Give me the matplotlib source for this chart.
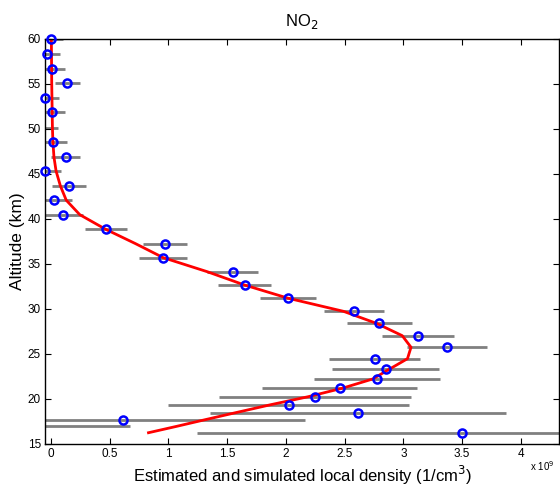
import numpy as np
import matplotlib
matplotlib.use("Agg")
import matplotlib.pyplot as plt

plt.rcParams['font.family'] = ['Liberation Sans', 'DejaVu Sans']

# Altitude grid (km)
altitude = [60.0, 58.3, 56.67, 55.05, 53.42, 51.83, 50.12, 48.57, 46.87, 45.31,
            43.65, 42.06, 40.46, 38.84, 37.24, 35.69, 34.13, 32.65, 31.18, 29.73,
            28.4, 27.03, 25.74, 24.47, 23.3, 22.22, 21.19, 20.25, 19.36, 18.47,
            17.66, 16.96, 16.25]

# Estimated density (x 1e9 1/cm^3)
estimated = [0.0, -0.03, 0.01, 0.14, -0.05, 0.01, -0.10, 0.014, 0.125, -0.05,
             0.153, 0.023, 0.105, 0.465, 0.97, 0.953, 1.546, 1.648, 2.02, 2.58,
             2.795, 3.126, 3.37, 2.755, 2.848, 2.777, 2.457, 2.247, 2.023, 2.61,
             0.61, -0.40, 3.495]

# Error half-widths (x 1e9)
error = [0.10, 0.107, 0.107, 0.108, 0.115, 0.11, 0.16, 0.12, 0.125, 0.135,
         0.143, 0.153, 0.165, 0.178, 0.19, 0.203, 0.215, 0.227, 0.24, 0.255,
         0.275, 0.306, 0.34, 0.387, 0.452, 0.537, 0.66, 0.82, 1.027, 1.26,
         1.55, 1.075, 2.25]

# Simulated (model) density (x 1e9)
simulated = [0.003, 0.004, 0.005, 0.006, 0.008, 0.010, 0.012, 0.016, 0.025, 0.043,
             0.08, 0.13, 0.245, 0.465, 0.72, 0.955, 1.33, 1.648, 2.02, 2.49,
             2.77, 2.99, 3.065, 3.035, 2.88, 2.74, 2.48, 2.19, 1.87, 1.57,
             1.30, 1.07, 0.83]

XLIM = (-0.051, 4.326)
YLIM = (15, 60)

fig = plt.figure(figsize=(5.6, 4.88), dpi=100)
ax = fig.add_axes([0.0804, 0.0902, 0.918, 0.8305])

ax.errorbar(estimated, altitude, xerr=error, fmt='none', ecolor='#808080',
            elinewidth=2.0, capsize=0, zorder=1)
ax.plot(simulated, altitude, color='red', lw=2.0, zorder=2)

est = np.asarray(estimated)
alt = np.asarray(altitude)
inside = (est >= XLIM[0]) & (est <= XLIM[1])
ax.plot(est[inside], alt[inside], 'o', mfc='none', mec='blue', mew=1.8, ms=5.8,
        zorder=3, clip_on=False)

ax.set_xlim(*XLIM)
ax.set_ylim(*YLIM)
ax.set_xticks([0, 0.5, 1, 1.5, 2, 2.5, 3, 3.5, 4])
ax.set_xticklabels(['0', '0.5', '1', '1.5', '2', '2.5', '3', '3.5', '4'])
ax.set_yticks([15, 20, 25, 30, 35, 40, 45, 50, 55, 60])
ax.tick_params(direction='in', top=True, right=True, length=4, width=0.8,
               labelsize=8.5, pad=3)
for s in ax.spines.values():
    s.set_linewidth(1.0)

ax.set_title('NO$_2$', fontsize=12, pad=9)
ax.set_ylabel('Altitude (km)', fontsize=12.5, labelpad=2)
ax.set_xlabel('Estimated and simulated local density (1/cm$^3$)', fontsize=12, labelpad=3)
fig.text(0.946, 0.045, 'x 10$^9$', fontsize=7, ha='left', va='center')

fig.savefig('out.png', dpi=100)
